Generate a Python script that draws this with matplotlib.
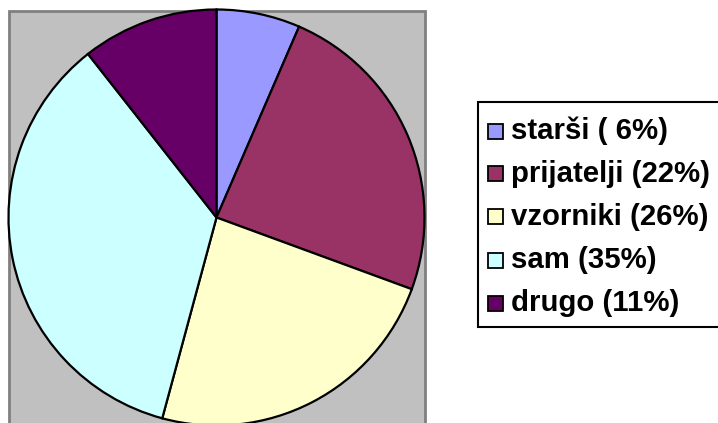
import matplotlib
matplotlib.use("Agg")
import matplotlib.pyplot as plt
from matplotlib.patches import Rectangle

labels = ["starši ( 6%)", "prijatelji (22%)", "vzorniki (26%)", "sam (35%)", "drugo (11%)"]
values = [6.5, 24.1, 23.6, 35.2, 10.6]
colors = ["#9999FF", "#993366", "#FFFFCC", "#CCFFFF", "#660066"]

W, H = 718, 423
fig = plt.figure(figsize=(W / 100, H / 100), dpi=100)
ax = fig.add_axes([0, 0, 1, 1])

# gray plot area
ax.add_patch(Rectangle((8.5, -5), 416, H - 10.5 + 5, facecolor="#C0C0C0",
                       edgecolor="#808080", linewidth=2, zorder=0))

ax.pie(values, colors=colors, startangle=90, counterclock=False,
       center=(216.5, H - 217.5), radius=208,
       wedgeprops=dict(edgecolor="black", linewidth=1.6), frame=True)
ax.set_xlim(0, W)
ax.set_ylim(0, H)
ax.set_aspect("equal")
ax.axis("off")

# legend box
ax.add_patch(Rectangle((477.5, H - 327), 250, 225, facecolor="white",
                       edgecolor="black", linewidth=1.5, zorder=5))
rows = [131, 174, 217, 260, 303]
for lab, col, y in zip(labels, colors, rows):
    ax.add_patch(Rectangle((487.5, H - y - 7.5), 15, 15, facecolor=col,
                           edgecolor="black", linewidth=1.3, zorder=6))
    ax.text(511, H - y, lab, fontsize=21.2, fontweight="bold",
            family="Liberation Sans", va="center", ha="left", zorder=7)

fig.savefig("out.png", dpi=100)
